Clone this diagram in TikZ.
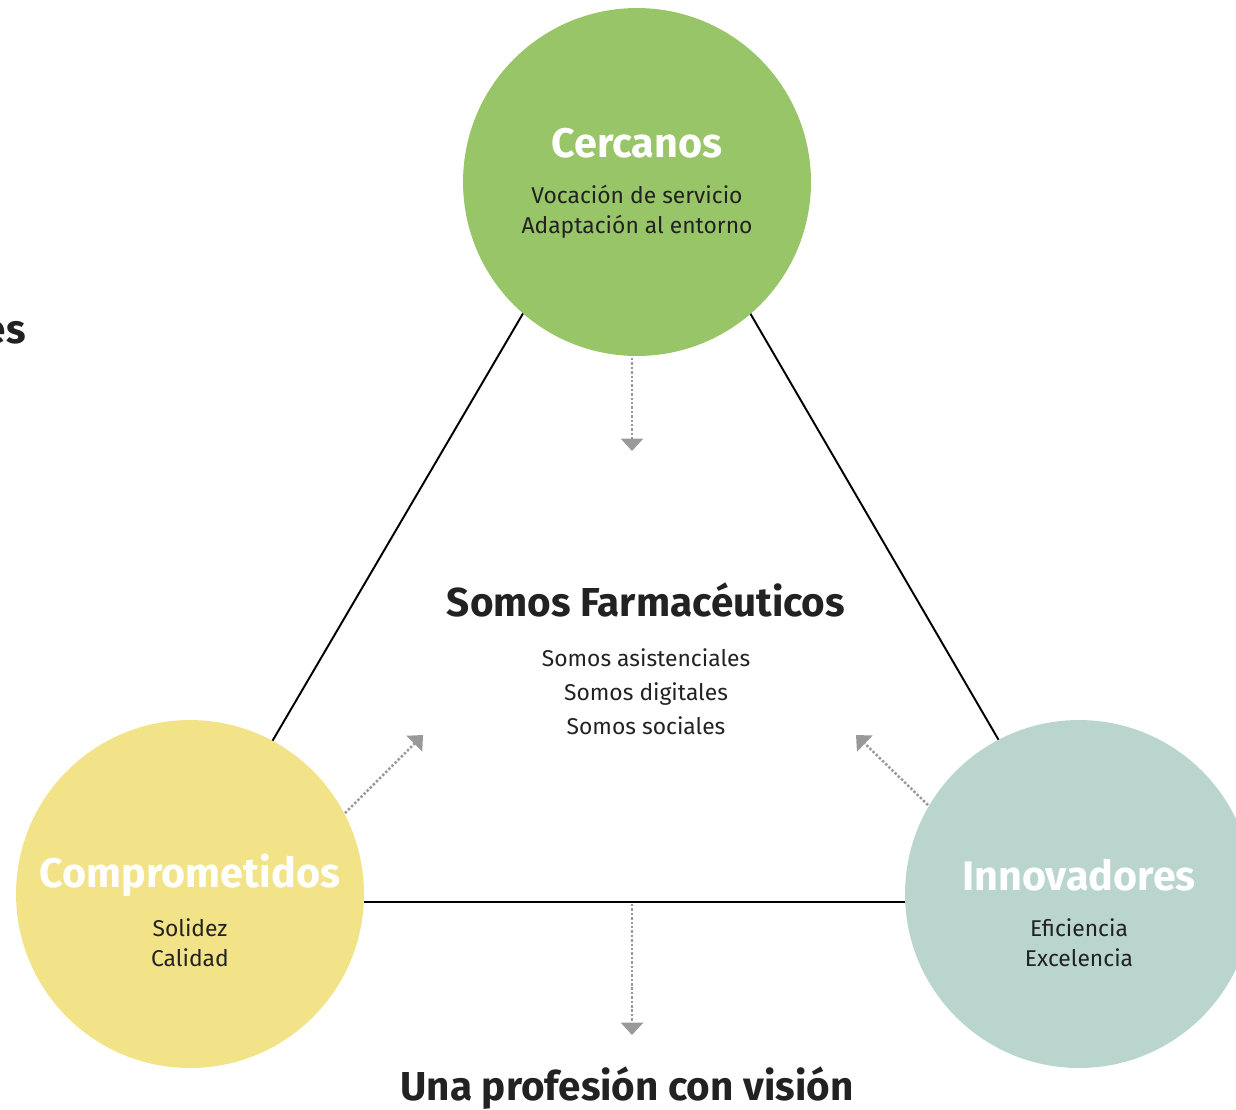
\documentclass[tikz,border=0pt]{standalone}
\usepackage{fontspec}
\setmainfont{Fira Sans}
\usetikzlibrary{arrows.meta}
\definecolor{cercgreen}{HTML}{98C567}
\definecolor{compyellow}{HTML}{F2E388}
\definecolor{innovteal}{HTML}{B9D5CE}
\definecolor{inkdark}{HTML}{222222}
\definecolor{flowgray}{HTML}{999999}

\begin{document}
\begin{tikzpicture}[
    x=0.02cm, y=-0.02cm,
    bubble/.style={circle, minimum size=6.96cm, inner sep=0pt}, % circulos de valores
    head/.style={text=white, font=\fontsize{23.5}{27}\selectfont\bfseries},
    sub/.style={text=inkdark, align=center, font=\fontsize{13}{17}\selectfont},
    link/.style={draw=black, line width=1.1pt},
    flow/.style={draw=flowgray, line width=1.4pt, dash pattern=on 1.4pt off 1.1pt,
        -{Triangle[width=12.5pt,length=7pt]}},
    bigtitle/.style={text=inkdark, font=\fontsize{23}{27}\selectfont\bfseries}
]
\useasboundingbox (0,0) rectangle (1236,1109);
\clip (0,0) rectangle (1236,1109);

% triangulo de fondo
\coordinate (apex) at (637,119);
\coordinate (left) at (178,902);
\coordinate (right) at (1093,902);
\draw[link] (apex) -- (left) -- (right) -- cycle;

% circulos
\node[bubble, fill=cercgreen] (cerc) at (637,182) {};
\node[bubble, fill=compyellow] (comp) at (190,894) {};
\node[bubble, fill=innovteal] (innov) at (1079,894) {};

\node[head] (cerctitle) at (637,143) {Cercanos};
\node[sub] (cerctext) at (637,212) {Vocación de servicio\\Adaptación al entorno};
\node[head] (comptitle) at (190,875) {Comprometidos};
\node[sub] (comptext) at (190,943) {Solidez\\Calidad};
\node[head] (innovtitle) at (1079,875) {Innovadores};
\node[sub] (innovtext) at (1079,943) {Eficiencia\\Excelencia};

% centro
\node[bigtitle] (centre) at (646,600) {Somos Farmacéuticos};
\node[sub, font=\fontsize{13}{19.3}\selectfont] (centretext) at (646,692)
    {Somos asistenciales\\Somos digitales\\Somos sociales};
\node[bigtitle] (vision) at (627,1088) {Una profesión con visión};
\node[bigtitle, anchor=east, inner sep=0pt] (cut) at (26,333) {es};

% flechas
\coordinate (topstart) at (632,358);
\coordinate (topend) at (632,451);
\coordinate (botstart) at (632,904);
\coordinate (botend) at (632,1035);
\coordinate (lstart) at (345,813);
\coordinate (lend) at (423,735);
\coordinate (rstart) at (928,805);
\coordinate (rend) at (856,735);
\draw[flow] (topstart) -- (topend);
\draw[flow] (botstart) -- (botend);
\draw[flow] (lstart) -- (lend);
\draw[flow] (rstart) -- (rend);
\end{tikzpicture}
\end{document}
